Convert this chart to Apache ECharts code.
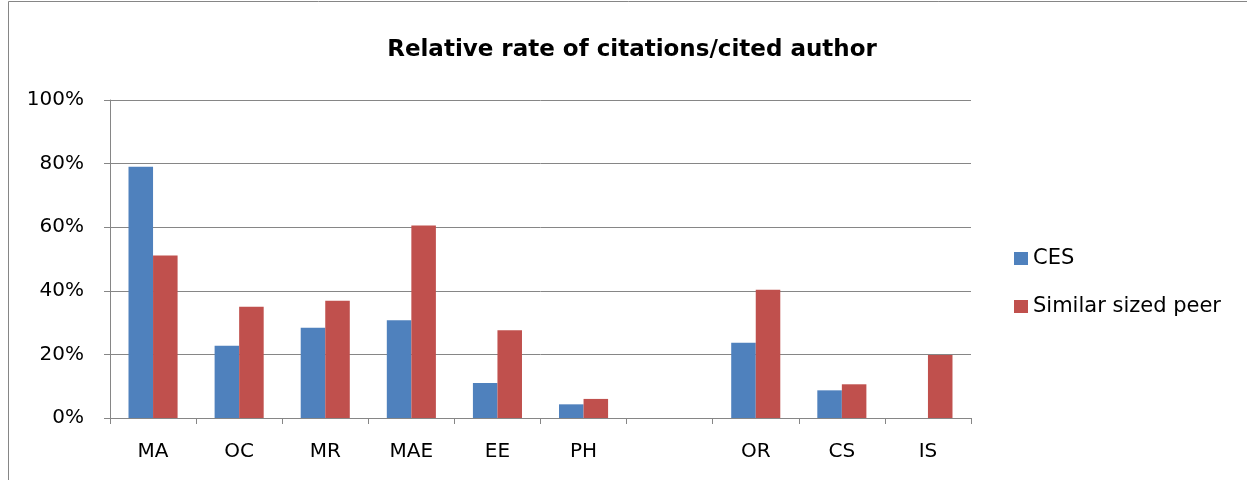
<!DOCTYPE html>
<html>
<head>
<meta charset="utf-8">
<title>Relative rate of citations/cited author</title>
<script src="https://cdn.jsdelivr.net/npm/echarts@6/dist/echarts.min.js"></script>
<style>
	html, body { margin: 0; padding: 0; background: #fff; }
	#chart { width: 1247px; height: 480px; }
</style>
</head>
<body>
<div id="chart"></div>
<script>
'use strict';

// data
var categories = ['MA', 'OC', 'MR', 'MAE', 'EE', 'PH', '', 'OR', 'CS', 'IS'];
var cesValues = [79, 22.7, 28.4, 30.7, 11, 4.3, null, 23.7, 8.7, null];
var peerValues = [51.1, 35, 36.9, 60.5, 27.6, 6, null, 40.3, 10.6, 19.8];
var yTicks = [0, 20, 40, 60, 80, 100];

var font = '"DejaVu Sans", sans-serif';

// 图表初始化
var chart = echarts.init(document.getElementById('chart'));

chart.setOption({
	animation: false,
	backgroundColor: '#fff',
	title: {
		text: 'Relative rate of citations/cited author',
		left: 627,
		textAlign: 'center',
		top: 34,
		textStyle: { fontFamily: font, fontSize: 23, fontWeight: 'bold', color: '#000' }
	},
	// outer chart border
	graphic: [{
		type: 'rect',
		shape: { x: 8.5, y: 1.5, width: 1260, height: 500 },
		style: { fill: 'none', stroke: '#868686', lineWidth: 1 },
		silent: true
	}],
	legend: {
		orient: 'vertical',
		left: 1009,
		top: 243,
		itemWidth: 14,
		itemHeight: 13,
		itemGap: 27,
		icon: 'rect',
		textStyle: { fontFamily: font, fontSize: 21, color: '#000' },
		data: ['CES', 'Similar sized peer']
	},
	grid: { left: 110, right: 276, top: 100, bottom: 62 },
	xAxis: {
		type: 'category',
		data: categories,
		axisLine: { lineStyle: { color: '#868686', width: 1 } },
		axisTick: { show: true, length: 6, lineStyle: { color: '#868686' } },
		axisLabel: { margin: 24, fontFamily: font, fontSize: 20, color: '#000' }
	},
	yAxis: {
		type: 'value',
		min: yTicks[0],
		max: yTicks[yTicks.length - 1],
		interval: 20,
		axisLine: { show: true, lineStyle: { color: '#868686', width: 1 } },
		axisTick: { show: true, length: 6, lineStyle: { color: '#868686' } },
		splitLine: { lineStyle: { color: '#868686', width: 1 } },
		axisLabel: { margin: 26, fontFamily: font, fontSize: 20, color: '#000', formatter: '{value}%' }
	},
	series: [{
		name: 'CES',
		type: 'bar',
		data: cesValues,
		barGap: '0%',
		barCategoryGap: '43%',
		itemStyle: { color: '#4F81BD' }
	}, {
		name: 'Similar sized peer',
		type: 'bar',
		data: peerValues,
		barGap: '0%',
		barCategoryGap: '43%',
		itemStyle: { color: '#C0504D' }
	}]
});
</script>
</body>
</html>
